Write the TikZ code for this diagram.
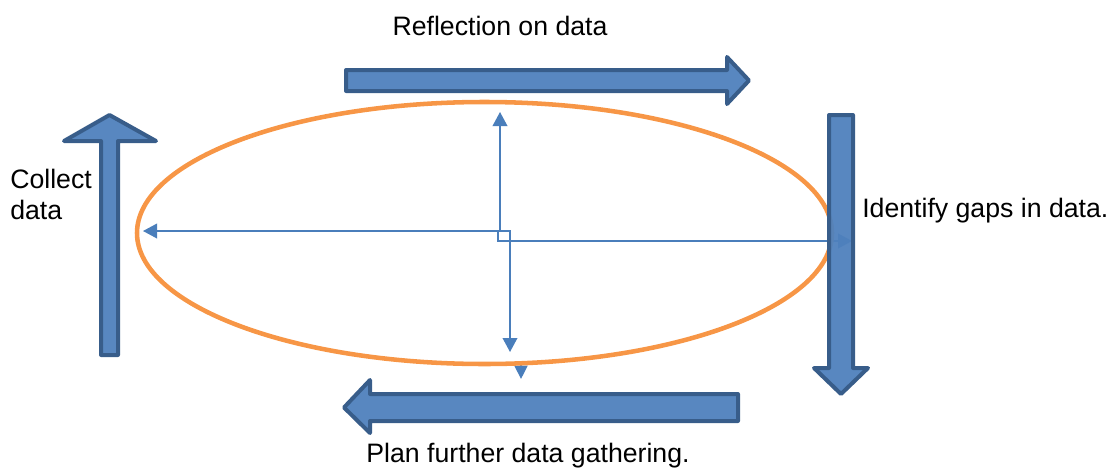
\documentclass[tikz,border=0pt]{standalone}
\usepackage{fontspec}
\setmainfont{Liberation Sans}
\usetikzlibrary{arrows.meta}
\definecolor{blockfill}{HTML}{4F81BD}
\definecolor{blockline}{HTML}{385D8A}
\definecolor{cycleorange}{HTML}{F79646}
\definecolor{connblue}{HTML}{4A7EBB}
\tikzset{
  blockarrow/.style={fill=blockfill, fill opacity=0.95, draw=blockline, draw opacity=1, line width=3pt, line join=round},
  conn/.style={draw=connblue, line width=1.1pt},
  label/.style={font=\fontsize{20}{23.25}\selectfont, inner sep=0pt, text=black}
}
\begin{document}
\begin{tikzpicture}[x=0.75pt,y=-0.75pt]
\useasboundingbox (0,0) rectangle (1110,468);

% connector end points and bends
\coordinate (up)  at (500,112);
\coordinate (j1)  at (500,231);
\coordinate (j2)  at (510,231);
\coordinate (dn)  at (510,352);
\coordinate (lt)  at (143,231);
\coordinate (j3)  at (498,231);
\coordinate (j4)  at (498,241);
\coordinate (rt)  at (852,241);
\coordinate (s1)  at (521,365);
\coordinate (s2)  at (521,379);

% thin connectors inside the cycle
\draw[conn, {Triangle[length=10.5pt,width=11pt]}-{Triangle[length=10.5pt,width=11pt]}] (up) -- (j1) -- (j2) -- (dn);
\draw[conn, {Triangle[length=10.5pt,width=11pt]}-{Triangle[length=10.5pt,width=11pt]}] (lt) -- (j3) -- (j4) -- (rt);
\draw[conn, -{Triangle[length=10pt,width=9.75pt]}] (s1) -- (s2);

% the cycle
\draw[cycleorange, line width=3.4pt] (484.5,233) ellipse [x radius=347.5, y radius=131];

% block arrows around the cycle
% top, pointing right
\draw[blockarrow] (346,70) -- (727,70) -- (727,57) -- (749,80.5) -- (727,104) -- (727,91) -- (346,91) -- cycle;
% right, pointing down
\draw[blockarrow] (829,115) -- (853,115) -- (853,368) -- (868,368) -- (841,394) -- (814,368) -- (829,368) -- cycle;
% bottom, pointing left
\draw[blockarrow] (738,394) -- (738,421) -- (370,421) -- (370,433) -- (344,407.5) -- (370,380) -- (370,394) -- cycle;
% left, pointing up
\draw[blockarrow] (101,355) -- (118,355) -- (118,141) -- (156,141) -- (109.5,115) -- (64,141) -- (101,141) -- cycle;

% labels
\node[label, anchor=base] (reflect) at (500,35) {Reflection on data};
\node[label, anchor=base west, align=left] (collect) at (10,219) {Collect\\data};
\node[label, anchor=base west] (gaps) at (862,217) {Identify gaps in data.};
\node[label, anchor=base] (plan) at (528,462) {Plan further data gathering.};
\end{tikzpicture}
\end{document}
